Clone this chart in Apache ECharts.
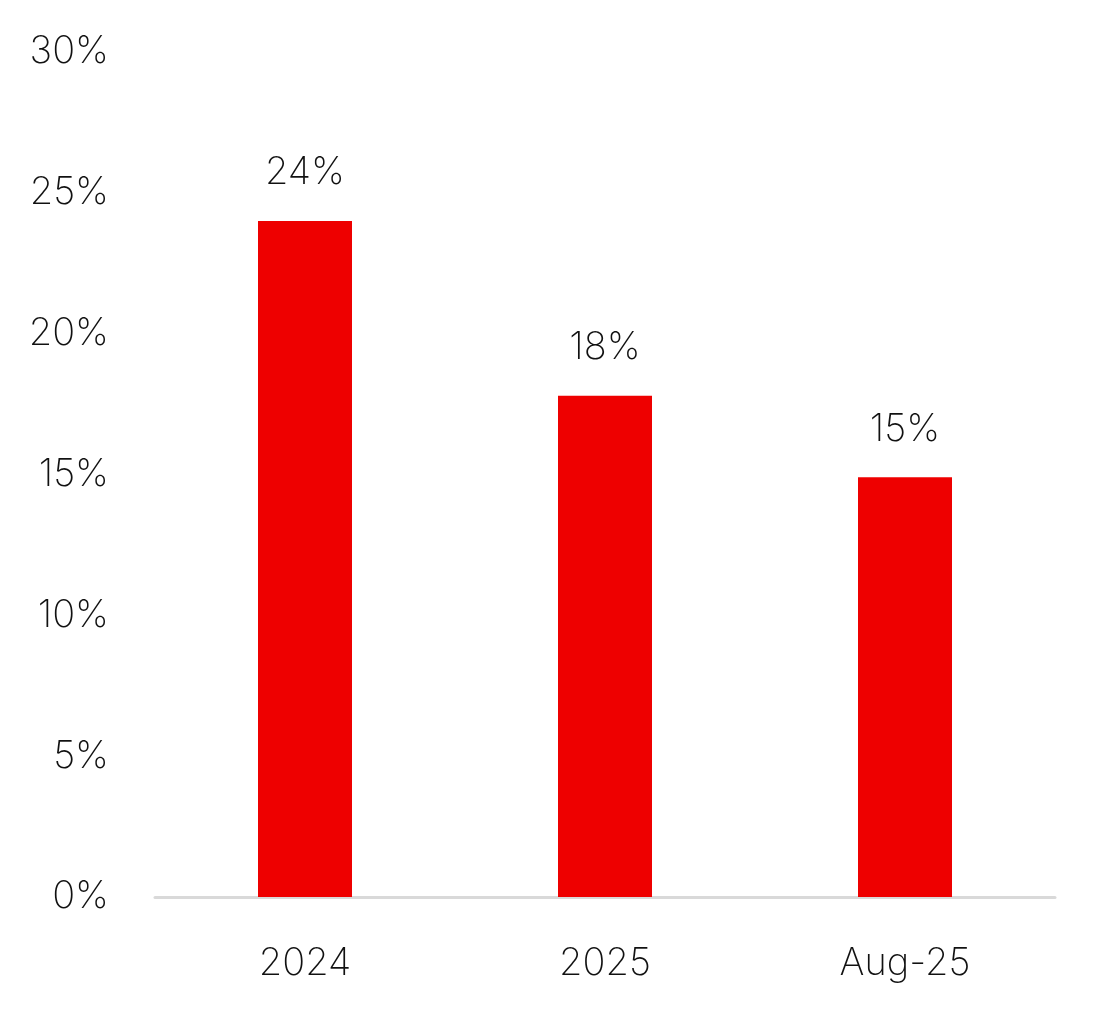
<!DOCTYPE html>
<html lang="en">
<head>
<meta charset="UTF-8">
<title>Chart</title>
<script src="https://cdn.jsdelivr.net/npm/echarts@6/dist/echarts.min.js"></script>
<style>
  html, body { margin: 0; padding: 0; background: #ffffff; }
  #main { width: 1105px; height: 1022px; }
</style>
</head>
<body>
<div id="main"></div>
<script>
  // data
  const categories = ["2024", "2025", "Aug-25"];
  const values = [24.0, 17.8, 14.9];
  const yTicks = [0, 5, 10, 15, 20, 25, 30];

  const textFont = "Inter";
  const myChart = echarts.init(document.getElementById("main"));

  const option = {
    animation: false,
    grid: {
      left: 155,
      right: 50,
      top: 52,
      bottom: 125
    },
    xAxis: {
      type: "category",
      data: categories,
      axisLine: { show: true, lineStyle: { color: "#d9d9d9", width: 3 } },
      axisTick: { show: false },
      axisLabel: {
        margin: 48,
        fontFamily: textFont,
        fontWeight: 200,
        fontSize: 38,
        color: "#111111"
      }
    },
    yAxis: {
      type: "value",
      min: yTicks[0],
      max: yTicks[yTicks.length - 1],
      interval: 5,
      splitLine: { show: false },
      axisLine: { show: false },
      axisTick: { show: false },
      axisLabel: {
        margin: 46,
        fontFamily: textFont,
        fontWeight: 200,
        fontSize: 38,
        color: "#111111",
        formatter: function (v) { return v + "%"; }
      }
    },
    series: [
      {
        type: "bar",
        data: values,
        barWidth: 94,
        itemStyle: { color: "#ee0000" },
        label: {
          show: true,
          position: "top",
          distance: 29,
          fontFamily: textFont,
          fontWeight: 200,
          fontSize: 38,
          color: "#111111",
          formatter: function (p) { return Math.round(p.value) + "%"; }
        }
      }
    ]
  };
  myChart.setOption(option);
</script>
</body>
</html>
